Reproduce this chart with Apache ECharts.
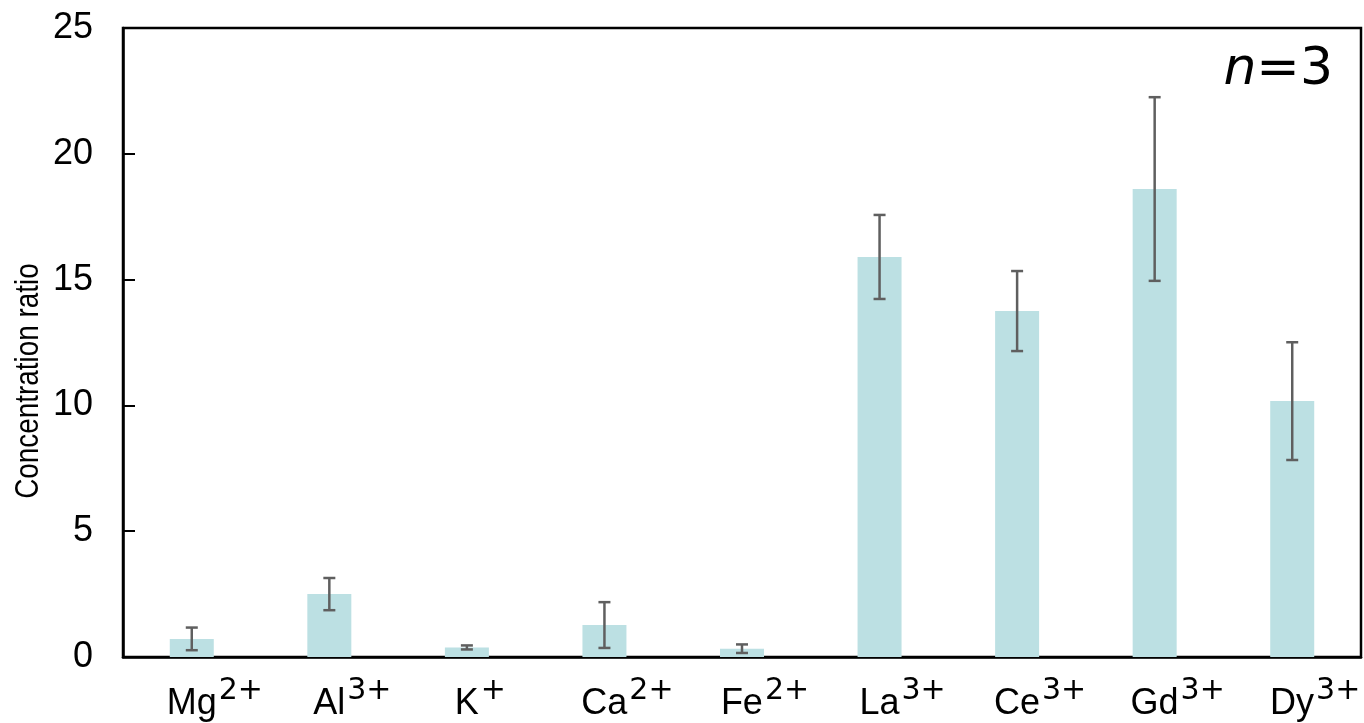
<!DOCTYPE html>
<html>
<head>
<meta charset="utf-8">
<title>Concentration ratio</title>
<script src="https://cdn.jsdelivr.net/npm/echarts@6/dist/echarts.min.js"></script>
<style>
  html, body { margin: 0; padding: 0; background: #fff; }
  #chart { width: 1364px; height: 723px; }
</style>
</head>
<body>
<div id="chart"></div>
<script>
// ions on the x axis, split into element and charge
const elements = ['Mg', 'Al', 'K', 'Ca', 'Fe', 'La', 'Ce', 'Gd', 'Dy'];
const charges = ['2+', '3+', '+', '2+', '2+', '3+', '3+', '3+', '3+'];
// mean concentration ratio and its error (±)
const ratios = [0.72, 2.5, 0.38, 1.27, 0.33, 15.9, 13.75, 18.6, 10.17];
const errors = [0.45, 0.64, 0.08, 0.91, 0.17, 1.67, 1.59, 3.65, 2.34];
const yTicks = [0, 5, 10, 15, 20, 25];

const chart = echarts.init(document.getElementById('chart'));

const categories = elements.map((e, i) => e + '|' + charges[i]);
const errorData = ratios.map((v, i) => [i, v - errors[i], v + errors[i]]);

function renderErrorBar(params, api) {
    const x = api.value(0);
    const lo = api.coord([x, api.value(1)]);
    const hi = api.coord([x, api.value(2)]);
    const half = 6;
    const style = { stroke: '#5f5f5f', lineWidth: 2.5 };
    return {
        type: 'group',
        children: [
            { type: 'line', shape: { x1: hi[0], y1: hi[1], x2: lo[0], y2: lo[1] }, style },
            { type: 'line', shape: { x1: hi[0] - half, y1: hi[1], x2: hi[0] + half, y2: hi[1] }, style },
            { type: 'line', shape: { x1: lo[0] - half, y1: lo[1], x2: lo[0] + half, y2: lo[1] }, style }
        ]
    };
}

const option = {
    animation: false,
    backgroundColor: '#fff',
    grid: {
        left: 123, right: 3, top: 28, bottom: 66,
        show: true, borderColor: '#000', borderWidth: 2.5, backgroundColor: 'transparent'
    },
    xAxis: {
        type: 'category',
        data: categories,
        axisLine: { lineStyle: { color: '#000', width: 2.5 } },
        axisTick: { show: false },
        axisLabel: {
            margin: 25,
            interval: 0,
            formatter: value => {
                const [base, charge] = value.split('|');
                const pad = charge.length > 1 ? 'padL' : 'padS';
                return '{' + pad + '|}{b|' + base + '}{s|' + charge + '}';
            },
            rich: {
                padL: { width: 46, verticalAlign: 'bottom' },
                padS: { width: 27, verticalAlign: 'bottom' },
                b: {
                    fontFamily: 'Liberation Sans', fontSize: 36, lineHeight: 40,
                    color: '#000', verticalAlign: 'bottom'
                },
                s: {
                    fontFamily: 'DejaVu Sans', fontSize: 30, lineHeight: 32,
                    color: '#000', verticalAlign: 'bottom', padding: [0, 0, 16, 2]
                }
            }
        }
    },
    yAxis: {
        type: 'value',
        min: yTicks[0],
        max: yTicks[yTicks.length - 1],
        interval: 5,
        splitLine: { show: false },
        axisLine: { show: true, lineStyle: { color: '#000', width: 2.5 } },
        axisTick: { show: true, inside: true, length: 12, lineStyle: { color: '#000', width: 2 } },
        axisLabel: {
            margin: 30,
            fontFamily: 'Liberation Sans',
            fontSize: 36,
            color: '#000'
        }
    },
    graphic: [
        {
            type: 'text',
            x: 29, y: 381,
            rotation: Math.PI / 2,
            scaleX: 0.82,
            style: {
                text: 'Concentration ratio',
                fontFamily: 'Liberation Sans',
                fontSize: 34,
                fill: '#000',
                align: 'center',
                verticalAlign: 'middle'
            }
        },
        {
            type: 'text',
            x: 1333, y: 70,
            style: {
                text: '{i|n}=3',
                fontFamily: 'DejaVu Sans',
                fontSize: 52,
                fill: '#000',
                align: 'right',
                verticalAlign: 'middle',
                rich: {
                    i: { fontFamily: 'DejaVu Sans', fontSize: 52, fontStyle: 'italic', fill: '#000' }
                }
            }
        }
    ],
    series: [
        {
            type: 'bar',
            data: ratios,
            barWidth: 44,
            itemStyle: { color: '#bce0e3' },
            z: 2
        },
        {
            type: 'custom',
            data: errorData,
            renderItem: renderErrorBar,
            encode: { x: 0, y: [1, 2] },
            z: 3
        }
    ]
};

chart.setOption(option);
</script>
</body>
</html>
